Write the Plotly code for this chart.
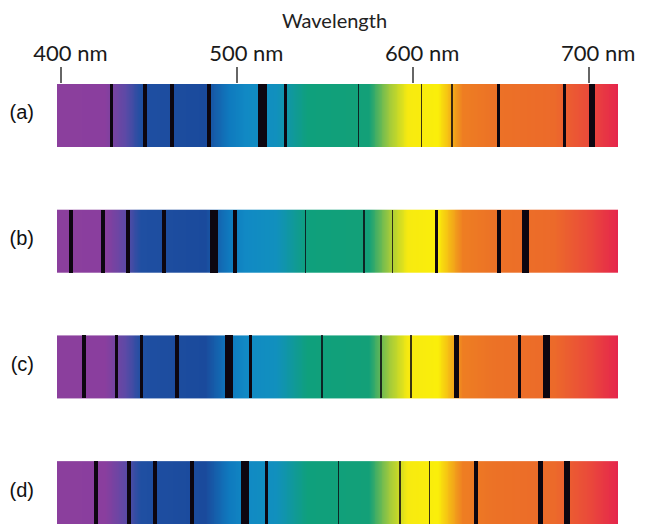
import numpy as np
import plotly.graph_objects as go

# ---- data -------------------------------------------------------------
row_labels = ["(a)", "(b)", "(c)", "(d)"]
row_pos = [3, 2, 1, 0]

lines_a = [428.4, 447.5, 463.1, 483.9, 514.3, 527.3, 569.0, 604.7, 622.1, 648.4, 686.1, 701.5]
width_a = [3.5, 3.5, 4.0, 3.5, 8.5, 3.5, 1.3, 1.6, 1.6, 3.3, 3.3, 6.0]

lines_b = [405.7, 423.7, 438.1, 458.2, 486.8, 498.7, 538.7, 572.0, 588.3, 613.2, 648.6, 663.8]
width_b = [4.0, 3.5, 4.0, 3.5, 8.0, 3.5, 1.4, 1.4, 1.4, 3.3, 4.0, 7.0]

lines_c = [412.9, 431.4, 445.5, 465.7, 495.3, 507.4, 548.2, 581.9, 598.8, 624.4, 660.4, 675.7]
width_c = [3.5, 3.5, 3.5, 3.5, 8.0, 3.5, 1.4, 1.8, 1.8, 5.0, 3.5, 7.0]

lines_d = [419.9, 438.4, 453.2, 474.1, 504.4, 516.5, 557.5, 592.6, 609.3, 635.8, 672.3, 687.6]
width_d = [4.0, 4.5, 3.5, 3.5, 8.5, 3.5, 1.8, 1.8, 1.8, 4.0, 4.5, 6.0]

tick_vals = [400, 500, 600, 700]
tick_text = ["400 nm", "500 nm", "600 nm", "700 nm"]

wl_min, wl_max = 397.5, 716.4

# spectrum colour stops (wavelength nm, colour)
spec_wl = [397.5, 425, 437, 445, 482, 495, 505, 522, 540, 575, 586, 597, 614, 628, 645, 680, 700, 716.4]
spec_col = ["#8B3F9D", "#8A3E9E", "#5A4AA6", "#1F4FA2", "#1A4A9C", "#0F79BE", "#1189C4", "#1190BE",
            "#0FA07C", "#13A078", "#9CC83E", "#F7EA10", "#FAEE0A", "#EE7E22", "#EC7226", "#EC6A2A",
            "#EA4A3A", "#E5254C"]

# ---- figure -----------------------------------------------------------
W, H = 647, 525
plot_w = 618.3 - 57.3
px_per_nm = plot_w / (wl_max - wl_min)

colorscale = [[(w - wl_min) / (wl_max - wl_min), c] for w, c in zip(spec_wl, spec_col)]
edges = np.arange(wl_min, wl_max + 0.5, 0.5)
edges[-1] = wl_max
centers = (edges[:-1] + edges[1:]) / 2

half = 0.25
fig = go.Figure()
for yp in row_pos:
    fig.add_trace(go.Heatmap(
        x=edges, y=[yp - half, yp + half], z=[centers],
        colorscale=colorscale, zmin=wl_min, zmax=wl_max,
        showscale=False, hoverinfo="skip"))

for yp, ls, ws in zip(row_pos, [lines_a, lines_b, lines_c, lines_d],
                      [width_a, width_b, width_c, width_d]):
    fig.add_trace(go.Bar(
        x=ls, y=[2 * half] * len(ls), base=[yp - half] * len(ls),
        width=[w / px_per_nm for w in ws],
        marker=dict(color=["rgba(13,6,16,0.8)" if w < 2 else "#0d0610" for w in ws],
                    line=dict(width=0)),
        showlegend=False, hoverinfo="skip"))

fig.update_layout(
    width=W, height=H,
    margin=dict(l=57.3, r=W - 618.3, t=84, b=1),
    paper_bgcolor="white", plot_bgcolor="white",
    barmode="overlay", bargap=0,
    showlegend=False,
    title=dict(text="Wavelength", x=(57.3 + 618.3) / 2 / W - 0.005, xanchor="center",
               xref="container", y=1 - 21 / H, yref="container", yanchor="middle",
               font=dict(family="Lato", size=20, color="#222")),
    xaxis=dict(range=[wl_min, wl_max], side="top", tickvals=tick_vals, ticktext=tick_text,
               ticks="outside", ticklen=16, tickwidth=1.5, tickcolor="#666",
               ticklabelshift=9, ticklabelstandoff=-3,
               tickfont=dict(family="Lato", size=22, color="#1a1a1a"),
               showgrid=False, zeroline=False, showline=False, fixedrange=True),
    yaxis=dict(range=[-0.25, 3.25], tickvals=row_pos, ticktext=row_labels,
               ticks="", ticklabelstandoff=22, ticklabelshift=-3,
               tickfont=dict(family="Liberation Sans", size=20, color="#111"),
               showgrid=False, zeroline=False, showline=False, fixedrange=True),
)

fig.write_html("out.html")
